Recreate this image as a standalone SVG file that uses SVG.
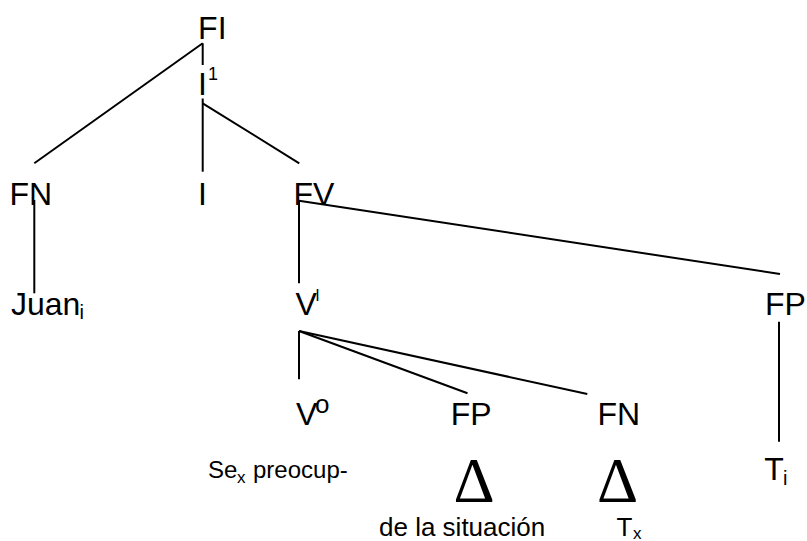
<svg xmlns="http://www.w3.org/2000/svg" width="807" height="541" viewBox="0 0 807 541">
<style>
  text { font-family: "Liberation Sans", Arial, sans-serif; fill: #000; }
  .big { font-size: 32px; }
  .sup1 { font-size: 18px; }
  .sub { font-size: 20px; }
  .subs { font-size: 17px; }
  .delta { font-family: "Liberation Serif", "Times New Roman", serif; font-size: 64px; text-anchor: middle; }
  .edge { stroke: #000; stroke-width: 2; fill: none; stroke-linecap: butt; }
</style>
<rect width="807" height="541" fill="#fff"/>
<g id="connectors">
  <line class="edge" x1="202.7" y1="43.3" x2="34.3" y2="163.3"/>
  <line class="edge" x1="202.7" y1="43.3" x2="202.7" y2="65"/>
  <line class="edge" x1="202.7" y1="98.5" x2="202.7" y2="171.7"/>
  <line class="edge" x1="202.7" y1="103.3" x2="299.3" y2="163.3"/>
  <line class="edge" x1="34.3" y1="200" x2="34.3" y2="293.3"/>
  <line class="edge" x1="299" y1="200.7" x2="299" y2="283.3"/>
  <line class="edge" x1="299" y1="200.7" x2="780" y2="274"/>
  <line class="edge" x1="299" y1="331" x2="299" y2="379.3"/>
  <line class="edge" x1="299" y1="331" x2="467.5" y2="393.3"/>
  <line class="edge" x1="299" y1="331" x2="587.3" y2="394"/>
  <line class="edge" x1="779" y1="321.7" x2="779" y2="441.7"/>
</g>
<g id="node-FI"><text class="big" x="198.1" y="39">FI</text></g>
<g id="node-I1"><text class="big" x="198" y="95">I</text><text class="sup1" x="208" y="80">1</text></g>
<g id="node-FN"><text class="big" x="9.4" y="205">FN</text></g>
<g id="node-I"><text class="big" x="198" y="205">I</text></g>
<g id="node-FV"><text class="big" x="293.4" y="205">FV</text></g>
<g id="node-Juan"><text class="big" x="11" y="315">Juan</text><text class="sub" x="79.5" y="319">i</text></g>
<g id="node-VI"><text class="big" x="295.5" y="315">V</text><text style="font-size:16px" x="315.2" y="301">I</text></g>
<g id="node-FP-right"><text class="big" x="765" y="315">FP</text></g>
<g id="node-Vo"><text class="big" x="296" y="425">V</text><text style="font-size:26px" x="315" y="413">o</text></g>
<g id="node-FP-mid"><text class="big" x="450.7" y="425">FP</text></g>
<g id="node-FN-mid"><text class="big" x="597.4" y="425">FN</text></g>
<g id="node-Ti"><text class="big" x="764.3" y="480">T</text><text class="sub" x="783" y="485">i</text></g>
<g id="node-Se"><text style="font-size:24px" x="208" y="478">Se</text><text class="subs" x="237" y="483">x</text><text style="font-size:24px" x="253" y="478">preocup-</text></g>
<g id="node-delta1"><text class="delta" x="474" y="501.7">Δ</text><text style="font-size:26px" x="379" y="536">de la situación</text></g>
<g id="node-delta2"><text class="delta" x="617.5" y="501.7">Δ</text><text style="font-size:26px" x="616.5" y="535.5">T</text><text class="subs" x="633" y="538.5">x</text></g>
</svg>
